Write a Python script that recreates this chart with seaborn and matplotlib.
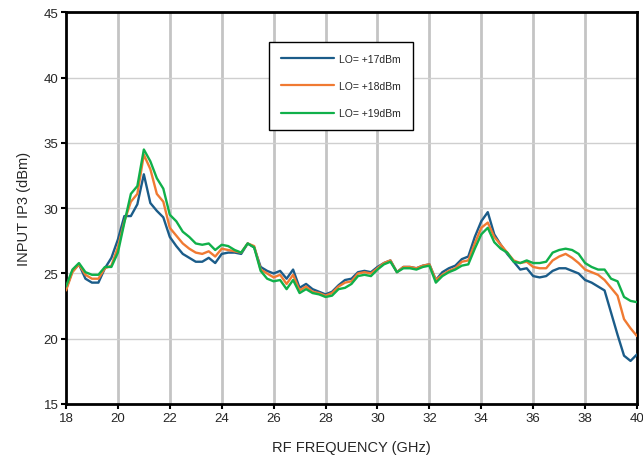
"""
Input IP3 vs RF frequency for three LO drive levels.
"""
import numpy as np
import pandas as pd
import matplotlib
matplotlib.use('Agg')
import matplotlib.pyplot as plt
import seaborn as sns

# ── DATA ─────────────────────────────────────────────────────
freq_ghz = [
    18.00, 18.25, 18.50, 18.75, 19.00, 19.25, 19.50, 19.75,
    20.00, 20.25, 20.50, 20.75, 21.00, 21.25, 21.50, 21.75,
    22.00, 22.25, 22.50, 22.75, 23.00, 23.25, 23.50, 23.75,
    24.00, 24.25, 24.50, 24.75, 25.00, 25.25, 25.50, 25.75,
    26.00, 26.25, 26.50, 26.75, 27.00, 27.25, 27.50, 27.75,
    28.00, 28.25, 28.50, 28.75, 29.00, 29.25, 29.50, 29.75,
    30.00, 30.25, 30.50, 30.75, 31.00, 31.25, 31.50, 31.75,
    32.00, 32.25, 32.50, 32.75, 33.00, 33.25, 33.50, 33.75,
    34.00, 34.25, 34.50, 34.75, 35.00, 35.25, 35.50, 35.75,
    36.00, 36.25, 36.50, 36.75, 37.00, 37.25, 37.50, 37.75,
    38.00, 38.25, 38.50, 38.75, 39.00, 39.25, 39.50, 39.75,
    40.00,
]

ip3_lo17 = [
    23.8, 25.2, 25.7, 24.6, 24.3, 24.3, 25.4, 26.2,
    27.6, 29.4, 29.4, 30.3, 32.6, 30.4, 29.8, 29.3,
    27.8, 27.1, 26.5, 26.2, 25.9, 25.9, 26.2, 25.8,
    26.5, 26.6, 26.6, 26.5, 27.3, 27.0, 25.5, 25.2,
    25.0, 25.2, 24.6, 25.3, 23.9, 24.2, 23.8, 23.6,
    23.4, 23.6, 24.1, 24.5, 24.6, 25.1, 25.2, 25.1,
    25.5, 25.8, 26.0, 25.1, 25.5, 25.5, 25.4, 25.6,
    25.7, 24.5, 25.1, 25.4, 25.6, 26.1, 26.3, 27.8,
    29.0, 29.7, 28.0, 27.2, 26.5, 25.9, 25.3, 25.4,
    24.8, 24.7, 24.8, 25.2, 25.4, 25.4, 25.2, 25.0,
    24.5, 24.3, 24.0, 23.7, 22.0, 20.3, 18.7, 18.3,
    18.8,
]

ip3_lo18 = [
    23.7, 25.1, 25.7, 24.9, 24.6, 24.6, 25.4, 25.6,
    27.0, 29.0, 30.5, 31.1, 34.1, 33.0, 31.1, 30.5,
    28.5, 27.9, 27.3, 26.9, 26.6, 26.5, 26.7, 26.3,
    26.9, 26.8, 26.7, 26.6, 27.3, 27.1, 25.3, 25.0,
    24.7, 24.9, 24.2, 24.9, 23.7, 24.0, 23.6, 23.5,
    23.3, 23.5, 24.0, 24.3, 24.4, 25.0, 25.1, 25.0,
    25.4, 25.8, 26.0, 25.1, 25.5, 25.5, 25.4, 25.6,
    25.7, 24.5, 24.9, 25.2, 25.4, 25.9, 26.0, 27.3,
    28.5, 28.9, 27.8, 27.2, 26.6, 26.0, 25.8, 25.9,
    25.5, 25.4, 25.4, 26.0, 26.3, 26.5, 26.2, 25.8,
    25.3, 25.1, 24.9, 24.5, 23.9, 23.3, 21.5, 20.8,
    20.2,
]

ip3_lo19 = [
    24.0, 25.3, 25.8, 25.1, 24.9, 24.9, 25.5, 25.5,
    26.6, 28.9, 31.1, 31.7, 34.5, 33.6, 32.3, 31.5,
    29.5, 29.0, 28.2, 27.8, 27.3, 27.2, 27.3, 26.8,
    27.2, 27.1, 26.8, 26.6, 27.3, 27.0, 25.2, 24.6,
    24.4, 24.5, 23.8, 24.5, 23.5, 23.8, 23.5, 23.4,
    23.2, 23.3, 23.8, 23.9, 24.2, 24.8, 24.9, 24.8,
    25.3, 25.7, 25.9, 25.1, 25.4, 25.4, 25.3, 25.5,
    25.6, 24.3, 24.8, 25.1, 25.3, 25.6, 25.7, 26.9,
    28.0, 28.5, 27.4, 26.9, 26.6, 25.9, 25.8, 26.0,
    25.8, 25.8, 25.9, 26.6, 26.8, 26.9, 26.8, 26.5,
    25.8, 25.5, 25.3, 25.3, 24.6, 24.4, 23.2, 22.9,
    22.8,
]

series_labels = ['LO= +17dBm', 'LO= +18dBm', 'LO= +19dBm']
x_ticks = [18, 20, 22, 24, 26, 28, 30, 32, 34, 36, 38, 40]
y_ticks = [15, 20, 25, 30, 35, 40, 45]

# long-form table for seaborn
df = pd.concat([
    pd.DataFrame({'freq': freq_ghz, 'ip3': vals, 'lo': lab})
    for vals, lab in zip([ip3_lo17, ip3_lo18, ip3_lo19], series_labels)
], ignore_index=True)

# ── STYLE ────────────────────────────────────────────────────
sns.set_style('white')
plt.rcParams['font.family'] = ['Liberation Sans', 'DejaVu Sans']
COLORS = ['#1b5c89', '#f07a32', '#10b04a']

fig = plt.figure(figsize=(6.43, 4.60), dpi=100)
ax = fig.add_axes([0.1026, 0.1196, 0.8881, 0.8511])

# grid first so the curves sit on top
for xv in x_ticks[1:-1]:
    ax.axvline(xv, color='#c4c4c4', linewidth=2.0, zorder=0)
for yv in y_ticks[1:-1]:
    ax.axhline(yv, color='#cfcfcf', linewidth=1.0, zorder=0)

sns.lineplot(data=df, x='freq', y='ip3', hue='lo', palette=COLORS,
             linewidth=1.7, ax=ax, legend=True, zorder=3)

ax.set_xlim(18, 40)
ax.set_ylim(15, 45)
ax.set_xticks(x_ticks)
ax.set_yticks(y_ticks)
ax.tick_params(axis='both', labelsize=9.5, length=3.5, width=1.5,
               direction='out', color='black', pad=2, left=True, bottom=True)
ax.set_xlabel('RF FREQUENCY (GHz)', fontsize=10.5, labelpad=12)
ax.set_ylabel('INPUT IP3 (dBm)', fontsize=10.5, labelpad=9)

for sp in ax.spines.values():
    sp.set_visible(True)
    sp.set_color('black')
    sp.set_linewidth(2.0)

leg = ax.legend(title=None, loc='upper left', bbox_to_anchor=(0.356, 0.925),
                fontsize=7.5, frameon=True, fancybox=False, edgecolor='black',
                handlelength=5.1, handletextpad=0.45, labelspacing=1.65,
                borderpad=1.15, borderaxespad=0)
leg.get_frame().set_linewidth(1.0)
leg.get_frame().set_alpha(1)
for line in leg.get_lines():
    line.set_linewidth(1.6)

fig.savefig('out.png', dpi=100)
plt.close(fig)
